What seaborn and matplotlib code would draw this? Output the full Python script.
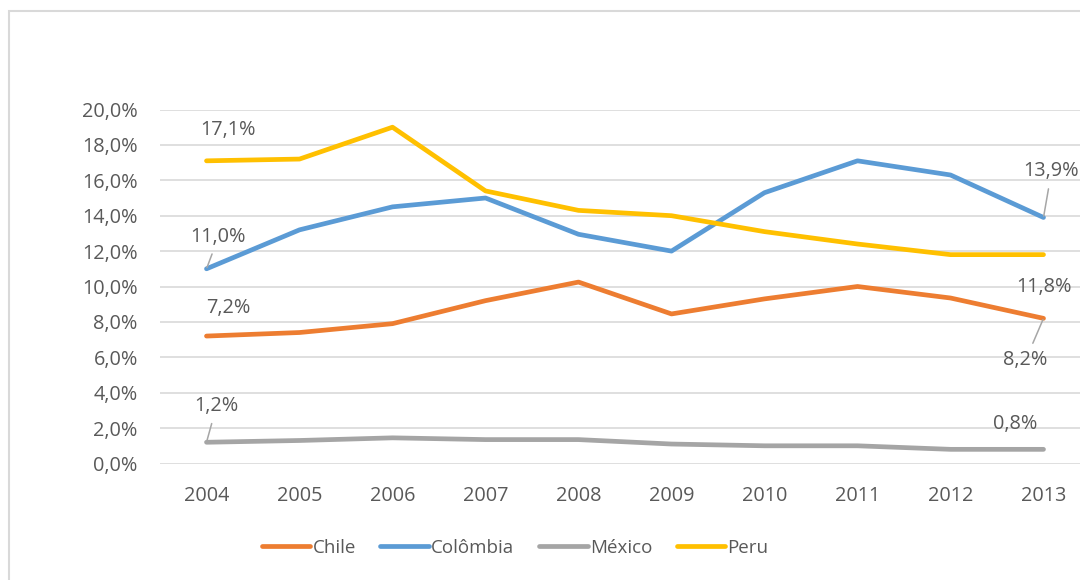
import matplotlib
matplotlib.use("Agg")
import matplotlib.pyplot as plt
import matplotlib.patches as mpatches
from matplotlib.ticker import FuncFormatter, MultipleLocator
import pandas as pd
import seaborn as sns

years = [2004, 2005, 2006, 2007, 2008, 2009, 2010, 2011, 2012, 2013]
chile = [7.2, 7.4, 7.9, 9.2, 10.25, 8.45, 9.3, 10.0, 9.35, 8.2]
colombia = [11.0, 13.2, 14.5, 15.0, 12.95, 12.0, 15.3, 17.1, 16.3, 13.9]
mexico = [1.2, 1.3, 1.45, 1.35, 1.35, 1.1, 1.0, 1.0, 0.8, 0.8]
peru = [17.1, 17.2, 19.0, 15.4, 14.3, 14.0, 13.1, 12.4, 11.8, 11.8]
countries = ["Chile", "Colômbia", "México", "Peru"]
palette = {"Chile": "#ED7D31", "Colômbia": "#5B9BD5", "México": "#A5A5A5", "Peru": "#FFC000"}

series = {"Chile": chile, "Colômbia": colombia, "México": mexico, "Peru": peru}
rows = []
for name in countries:
    for i, (yr, v) in enumerate(zip(years, series[name])):
        rows.append({"pos": i, "ano": yr, "pais": name, "valor": v})
df = pd.DataFrame(rows)

sns.set_theme(style="white")
plt.rcParams["font.family"] = ["Open Sans", "DejaVu Sans"]
text_color = "#595959"
fs = 14.3

fig = plt.figure(figsize=(10.8, 5.8), dpi=100)
fig.patch.set_facecolor("white")
# outer chart-area border
fig.patches.append(mpatches.Rectangle((9 / 1080, -0.1), 1.2, (580 - 11) / 580 + 0.1,
                                      transform=fig.transFigure, fill=False,
                                      edgecolor="#d9d9d9", linewidth=1.5))

ax = fig.add_axes([160 / 1080, (580 - 463.5) / 580, 930 / 1080, 354 / 580])
sns.lineplot(data=df, x="pos", y="valor", hue="pais", hue_order=countries,
             palette=palette, linewidth=3.4, ax=ax, legend=False,
             solid_capstyle="round", solid_joinstyle="round")

ax.set_xlim(-0.5, len(years) - 0.5)
ax.set_ylim(0, 20)
ax.yaxis.set_major_locator(MultipleLocator(2))
ax.yaxis.set_major_formatter(FuncFormatter(lambda v, p: f"{v:.1f}%".replace(".", ",")))
ax.set_xticks(range(len(years)))
ax.set_xticklabels([str(y) for y in years])
ax.grid(axis="y", color="#d9d9d9", linewidth=1.2)
ax.set_axisbelow(True)
for s in ax.spines.values():
    s.set_visible(False)
ax.tick_params(axis="both", length=0, labelsize=fs, colors=text_color)
ax.tick_params(axis="y", pad=16)
ax.tick_params(axis="x", pad=16)
ax.set_xlabel("")
ax.set_ylabel("")

def fmt(v):
    return f"{v:.1f}%".replace(".", ",")

leader = dict(arrowstyle="-", color="#a6a6a6", lw=1.1, shrinkA=3, shrinkB=1)
last = len(years) - 1
labels = [
    ("Peru", 0, (22, 31), False),
    ("Colômbia", 0, (12, 32), True),
    ("Chile", 0, (22, 28), False),
    ("México", 0, (10, 36), True),
    ("Colômbia", last, (8, 46), True),
    ("Peru", last, (0, -32), False),
    ("Chile", last, (-18, -42), True),
    ("México", last, (-28, 25), False),
]
for name, i, (dx, dy), with_line in labels:
    v = series[name][i]
    ax.annotate(fmt(v), xy=(i, v), xytext=(dx, dy), textcoords="offset pixels",
                ha="center", va="center", fontsize=fs, color=text_color,
                arrowprops=leader if with_line else None, annotation_clip=False)

handles = [plt.Line2D([], [], color=palette[c], linewidth=3.4, solid_capstyle="round")
           for c in countries]
fig.legend(handles, countries, loc="center", bbox_to_anchor=(515 / 1080, (580 - 548) / 580),
           ncol=4, frameon=False, fontsize=13.5, handlelength=2.6, handletextpad=0.12,
           columnspacing=1.3, labelcolor=text_color)

fig.savefig("out.png", dpi=100, facecolor="white")
